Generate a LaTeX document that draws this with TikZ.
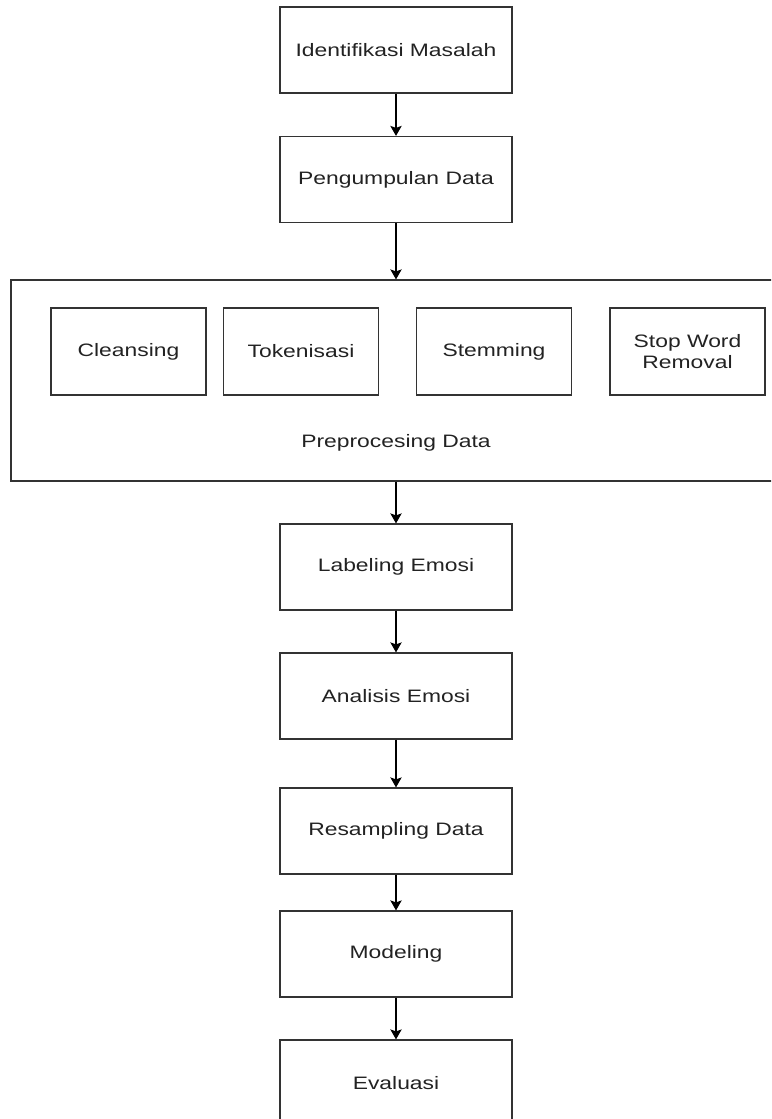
\documentclass[tikz,border=0pt]{standalone}
\usepackage{fontspec}
\setmainfont{Liberation Sans}[FakeStretch=1.27]
\usetikzlibrary{arrows.meta}
\definecolor{boxK}{RGB}{51,51,51}
\definecolor{txtK}{RGB}{34,34,34}

\begin{document}
\begin{tikzpicture}[x=0.75pt,y=-0.75pt,>={Stealth[length=7.5pt,width=8.5pt,inset=1.5pt]},
  stepbox/.style={draw=boxK,line width=0.9pt,minimum width=174pt,minimum height=64.5pt,
    text=txtK,font=\fontsize{13.5}{15.75}\selectfont},
  subbox/.style={stepbox,minimum width=116.25pt,minimum height=65.25pt,align=center},
  flow/.style={->,line width=1pt}]
\useasboundingbox (0,0) rectangle (771,1119);
\clip (0,0) rectangle (771,1119);
\node[stepbox] (ident) at (396,50) {Identifikasi Masalah};
\node[stepbox] (kumpul) at (396,179.5) {Pengumpulan Data};
\node[stepbox,minimum width=577.5pt,minimum height=150.75pt] (prepro) at (396,380.5) {};
\node[subbox] (cleans) at (128.5,351.5) {Cleansing};
\node[subbox] (token) at (301,351.5) {Tokenisasi};
\node[subbox] (stem) at (494,351.5) {Stemming};
\node[subbox] (stopw) at (687.5,351.5) {Stop Word\\Removal};
\node[text=txtK,font=\fontsize{13.5}{15.75}\selectfont] (preLbl) at (396,443) {Preprocesing Data};
\node[stepbox] (label) at (396,567) {Labeling Emosi};
\node[stepbox] (analisis) at (396,696) {Analisis Emosi};
\node[stepbox] (resamp) at (396,831) {Resampling Data};
\node[stepbox] (model) at (396,954) {Modeling};
\node[stepbox] (eval) at (396,1083) {Evaluasi};
\draw[flow] (ident) -- (kumpul);
\draw[flow] (kumpul) -- (prepro);
\draw[flow] (prepro) -- (label);
\draw[flow] (label) -- (analisis);
\draw[flow] (analisis) -- (resamp);
\draw[flow] (resamp) -- (model);
\draw[flow] (model) -- (eval);
\end{tikzpicture}
\end{document}
